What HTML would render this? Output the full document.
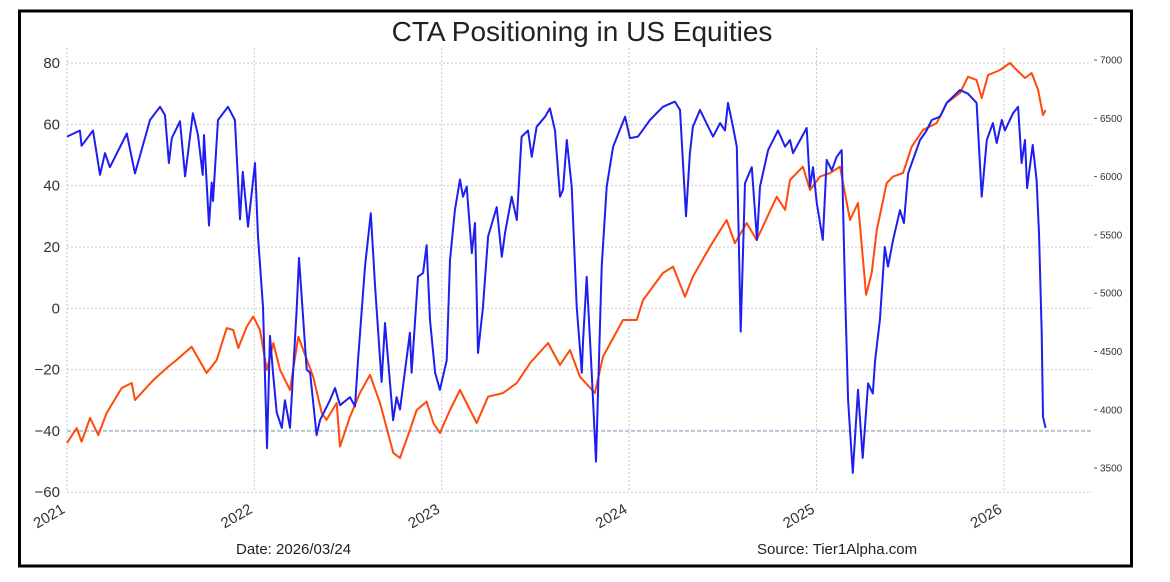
<!DOCTYPE html>
<html><head><meta charset="utf-8"><style>
html,body{margin:0;padding:0;background:#fff;}
svg{display:block;}
text{font-family:"Liberation Sans",sans-serif;}
</style></head><body>
<svg id="chart" width="1170" height="582" viewBox="0 0 1170 582" xmlns="http://www.w3.org/2000/svg">
<rect x="19.5" y="11" width="1112" height="555" fill="#fff" stroke="#000" stroke-width="3"/>
<text x="582" y="41" text-anchor="middle" font-size="28" fill="#222">CTA Positioning in US Equities</text>
<g id="grid"></g>
<g id="axes"></g>
<g id="series"></g>
<text x="236" y="554" font-size="15" fill="#222">Date: 2026/03/24</text>
<text x="757" y="554" font-size="15" fill="#222">Source: Tier1Alpha.com</text>
</svg>
<script>
const leftTicks=[80,60,40,20,0,-20,-40,-60];
const leftTickLabels=["80","60","40","20","0","\u221220","\u221240","\u221260"];
const rightTicks=[7000,6500,6000,5500,5000,4500,4000,3500];
const yearTicks=[2021,2022,2023,2024,2025,2026];
const blueT=[2021.000,2021.069,2021.078,2021.139,2021.176,2021.203,2021.229,2021.319,2021.363,2021.443,2021.496,2021.523,2021.544,2021.559,2021.603,2021.630,2021.672,2021.699,2021.724,2021.731,2021.758,2021.772,2021.779,2021.806,2021.859,2021.896,2021.923,2021.938,2021.966,2022.003,2022.019,2022.046,2022.067,2022.083,2022.099,2022.119,2022.146,2022.163,2022.190,2022.226,2022.238,2022.279,2022.297,2022.332,2022.350,2022.403,2022.430,2022.457,2022.510,2022.537,2022.553,2022.590,2022.621,2022.644,2022.679,2022.697,2022.740,2022.759,2022.777,2022.830,2022.839,2022.873,2022.900,2022.919,2022.937,2022.964,2022.990,2023.026,2023.044,2023.070,2023.097,2023.113,2023.133,2023.160,2023.177,2023.193,2023.220,2023.247,2023.293,2023.320,2023.337,2023.373,2023.400,2023.426,2023.460,2023.480,2023.506,2023.551,2023.577,2023.604,2023.631,2023.647,2023.667,2023.693,2023.720,2023.747,2023.754,2023.773,2023.800,2023.823,2023.853,2023.880,2023.914,2023.978,2024.004,2024.047,2024.111,2024.180,2024.244,2024.271,2024.303,2024.324,2024.340,2024.378,2024.447,2024.485,2024.511,2024.527,2024.554,2024.574,2024.595,2024.618,2024.654,2024.682,2024.698,2024.741,2024.794,2024.832,2024.858,2024.874,2024.947,2024.965,2024.981,2025.001,2025.033,2025.054,2025.081,2025.107,2025.134,2025.152,2025.168,2025.193,2025.221,2025.246,2025.275,2025.300,2025.312,2025.338,2025.364,2025.381,2025.408,2025.445,2025.466,2025.488,2025.552,2025.587,2025.614,2025.659,2025.694,2025.765,2025.808,2025.854,2025.881,2025.908,2025.941,2025.961,2025.988,2026.005,2026.048,2026.075,2026.094,2026.112,2026.123,2026.153,2026.174,2026.187,2026.201,2026.208,2026.222];
const blueV=[56,58,53,58,43.5,50.6,46,57,44,61.4,65.7,63,47.4,55.5,61,43,63.6,56.5,43.5,56.5,27,41,35,61.4,65.7,61.4,29,44.5,26.6,47.4,23.4,0.5,-45.6,-9,-21,-34,-39,-30,-39,0.5,16.4,-20,-21,-41.4,-36.5,-30,-26,-31.6,-29,-32,-17,13.6,31,7,-24,-4.8,-36.5,-29,-33,-8,-21,10.3,11.5,20.6,-3.8,-21,-26.6,-17,15.7,32,42,36.4,39.7,18,27.8,-14.6,0.5,23.4,33,16.8,24.5,36.4,28.8,56,58,49.4,59.2,62.5,65.2,58,36.4,38.6,54.9,39.7,0.5,-21,-10.3,10.3,-21,-50,13.6,39.7,52.7,62.5,55.5,56,61.4,65.7,67.4,64.7,30,50.6,59.2,64.7,56,60.4,58,67,59.2,52.7,-7.6,40.8,46,22.3,39.7,51.6,58,52.7,54.9,50.6,58.8,39.7,46,34.3,22.3,48.4,45,49.4,51.6,5,-30,-53.7,-26.6,-48.8,-24.5,-27.8,-17,-3.8,20,13.6,22.3,32,27.8,44,54.9,58,61.4,62.5,67,71.2,70,67,36.4,54.9,60.4,53.9,61.4,58,63.6,65.7,47.4,54.9,39.2,53.3,41.8,24.5,-8,-35.4,-39];
const orangeT=[2021.000,2021.052,2021.078,2021.123,2021.167,2021.212,2021.292,2021.345,2021.363,2021.461,2021.550,2021.585,2021.665,2021.745,2021.799,2021.852,2021.887,2021.914,2021.959,2021.994,2022.030,2022.066,2022.101,2022.137,2022.190,2022.234,2022.314,2022.359,2022.385,2022.439,2022.457,2022.510,2022.563,2022.617,2022.670,2022.741,2022.777,2022.830,2022.866,2022.919,2022.955,2022.990,2023.044,2023.097,2023.186,2023.247,2023.327,2023.400,2023.471,2023.567,2023.631,2023.684,2023.737,2023.817,2023.860,2023.967,2024.040,2024.074,2024.180,2024.234,2024.298,2024.340,2024.431,2024.520,2024.564,2024.627,2024.680,2024.787,2024.832,2024.858,2024.927,2024.965,2025.018,2025.072,2025.125,2025.178,2025.221,2025.264,2025.294,2025.321,2025.374,2025.408,2025.461,2025.508,2025.568,2025.641,2025.694,2025.765,2025.808,2025.854,2025.881,2025.915,2025.979,2026.032,2026.068,2026.112,2026.148,2026.182,2026.208,2026.222];
const orangeV=[3715,3844,3727,3930,3784,3973,4187,4230,4084,4256,4384,4427,4541,4316,4427,4701,4684,4530,4713,4799,4684,4341,4573,4341,4170,4627,4284,3973,3913,4058,3684,3941,4144,4299,4058,3630,3587,3827,3998,4070,3887,3801,3998,4170,3887,4112,4144,4230,4401,4573,4384,4513,4284,4144,4456,4770,4770,4942,5173,5227,4970,5142,5399,5628,5430,5602,5456,5828,5714,5971,6085,5885,6000,6031,6085,5628,5774,4985,5173,5542,5945,6000,6031,6257,6400,6459,6631,6717,6857,6828,6674,6871,6914,6974,6914,6846,6888,6743,6528,6571];

const NS='http://www.w3.org/2000/svg';
const X0=67,YEARPX=187.4;
function xs(t){return X0+(t-2021)*YEARPX;}
function yl(v){return 63+(80-v)*3.066;}
function yr(p){return 60+(7000-p)/500*58.3;}
function mk(tag,attrs,parent){const e=document.createElementNS(NS,tag);for(const k in attrs)e.setAttribute(k,attrs[k]);parent.appendChild(e);return e;}
const grid=document.getElementById('grid'),axes=document.getElementById('axes'),series=document.getElementById('series');
leftTicks.forEach((v,i)=>{
  const y=yl(v);
  if(v!==-40){const g=mk('line',{x1:X0,x2:1092,y1:y,y2:y,stroke:'#c8c8c8','stroke-width':1,'stroke-dasharray':'2,2'},grid);
  
  }
  const t=mk('text',{x:60,y:y+5,'text-anchor':'end','font-size':15,fill:'#333'},axes);
  t.textContent=leftTickLabels[i];
  
  
});
const ref=mk('line',{x1:X0,x2:1092,y1:yl(-40),y2:yl(-40),stroke:'#b8c4d8','stroke-width':2,'stroke-dasharray':'4,2'},grid);


rightTicks.forEach(p=>{
  const y=yr(p);
  const tk=mk('line',{x1:1094,x2:1097,y1:y,y2:y,stroke:'#555','stroke-width':1},axes);
  
  
  const t=mk('text',{x:1100,y:y+3.5,'font-size':10,fill:'#333'},axes);
  t.textContent=String(p);
  
  
});
yearTicks.forEach(yv=>{
  const x=xs(yv);
  const g=mk('line',{x1:x,x2:x,y1:48,y2:492,stroke:'#c8c8c8','stroke-width':1,'stroke-dasharray':'2,2'},grid);
  
  
  const t=mk('text',{x:x-1,y:512,'text-anchor':'end','font-size':15,fill:'#333',transform:`rotate(-30 ${x-1} 512)`},axes);
  t.textContent=String(yv);
  
  
});
function path(T,V,yf,color,name){
  let d='';T.forEach((t,i)=>{d+=(i?'L':'M')+xs(t).toFixed(1)+','+yf(V[i]).toFixed(1);});
  const p=mk('path',{d:d,fill:'none',stroke:color,'stroke-width':2,'stroke-linejoin':'round'},series);
  
  
}
path(orangeT,orangeV,yr,'#ff4a0a','sp500-line');
path(blueT,blueV,yl,'#1e1ef0','cta-positioning-line');
</script>
</body></html>
